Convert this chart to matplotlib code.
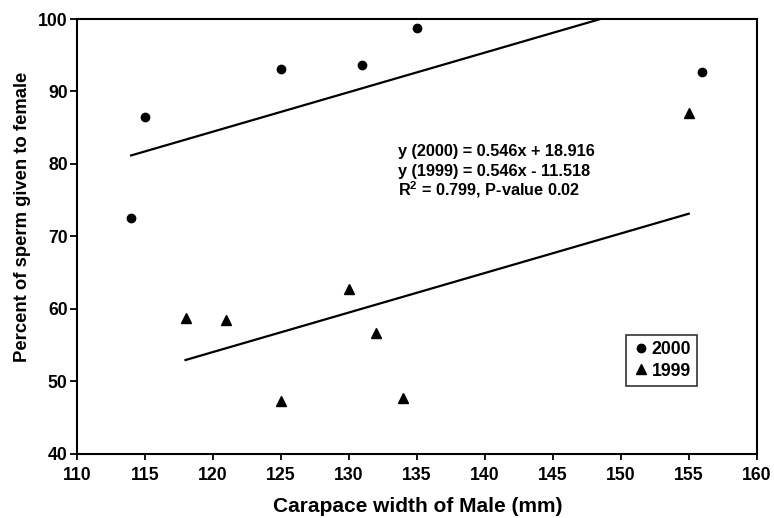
import numpy as np
import matplotlib
matplotlib.use("Agg")
import matplotlib.pyplot as plt

plt.rcParams['font.family'] = ['Liberation Sans', 'DejaVu Sans']
plt.rcParams['font.weight'] = 'bold'
plt.rcParams['mathtext.fontset'] = 'custom'
plt.rcParams['mathtext.rm'] = 'Liberation Sans:bold'
plt.rcParams['mathtext.bf'] = 'Liberation Sans:bold'

# data
x_2000 = [114, 115, 125, 131, 135, 156]
y_2000 = [72.5, 86.4, 93.1, 93.6, 98.8, 92.7]
x_1999 = [118, 121, 125, 130, 132, 134, 155]
y_1999 = [58.7, 58.5, 47.2, 62.7, 56.6, 47.7, 87.0]

slope = 0.546
icpt_2000 = 18.916
icpt_1999 = -11.518

fig = plt.figure(figsize=(7.74, 5.18), dpi=100)
ax = fig.add_axes([0.0991, 0.1245, 0.8786, 0.8388])

ax.plot(x_2000, y_2000, 'o', color='black', markersize=6, label='2000', zorder=3)
ax.plot(x_1999, y_1999, '^', color='black', markersize=7, label='1999', zorder=3)

# trend lines over each series' x range
xl = np.array([min(x_2000), max(x_2000)])
ax.plot(xl, slope * xl + icpt_2000, color='black', lw=1.6)
xl = np.array([min(x_1999), max(x_1999)])
ax.plot(xl, slope * xl + icpt_1999, color='black', lw=1.6)

ax.set_xlim(110, 160)
ax.set_ylim(40, 100)
ax.set_xticks(np.arange(110, 161, 5))
ax.set_yticks(np.arange(40, 101, 10))
ax.tick_params(direction='out', width=1.3, labelsize=12.7, top=False, right=False)
ax.tick_params(axis='x', length=4, pad=6)
ax.tick_params(axis='y', length=5, pad=1.5)
for s in ax.spines.values():
    s.set_linewidth(1.5)

ax.set_xlabel('Carapace width of Male (mm)', fontsize=15, fontweight='bold', va='center')
ax.xaxis.set_label_coords(0.502, -0.123)
ax.set_ylabel('Percent of sperm given to female', fontsize=13.3, fontweight='bold', va='center')
ax.yaxis.set_label_coords(-0.0804, 0.544)

eq_lines = ['y (2000) = 0.546x + 18.916',
            'y (1999) = 0.546x - 11.518',
            r'R$^{2}$ = 0.799, P-value 0.02']
eq_y = [0.6854, 0.6393, 0.5933]
for s, yy in zip(eq_lines, eq_y):
    ax.text(0.4725, yy, s, transform=ax.transAxes, fontsize=11.7,
            fontweight='bold', va='baseline')

leg = ax.legend(loc='upper left', bbox_to_anchor=(0.8078, 0.2727), fontsize=12.7,
                frameon=True, fancybox=False, edgecolor='black', handlelength=1.0,
                handletextpad=0.1, borderpad=0.35, labelspacing=0.25,
                borderaxespad=0)
leg.get_frame().set_linewidth(1.2)

fig.savefig('out.png', dpi=100)
